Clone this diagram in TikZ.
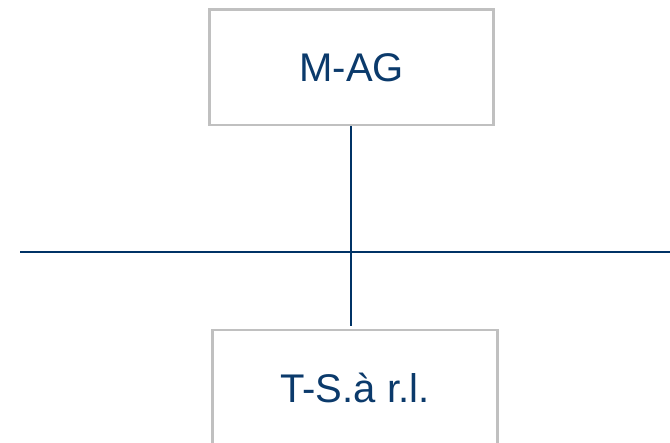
\documentclass[tikz,border=0pt]{standalone}
\usepackage{fontspec}
\setmainfont{Liberation Sans}
\definecolor{boxgrey}{HTML}{C0C0C0}
\definecolor{navy}{HTML}{003366}
\definecolor{textnavy}{HTML}{0B3A6B}
\begin{document}
\begin{tikzpicture}[x=1pt,y=-1pt,
  entity/.style={draw=boxgrey,line width=2.6pt,fill=white,
    minimum width=284pt,minimum height=115.5pt,inner sep=0pt,
    text=textnavy,font=\fontsize{40pt}{48pt}\selectfont},
  link/.style={draw=navy,line width=1.8pt}]
  \clip (0,0) rectangle (670,443);
  \useasboundingbox (0,0) rectangle (670,443);
  % hierarchy line
  \coordinate (hl) at (20,252);
  \coordinate (hr) at (670,252);
  \coordinate (stub) at (351,326);
  \draw[link] (hl) -- (hr);
  % entities
  \node[entity] (parent) at (351.6,67.3) {M-AG};
  \node[entity,minimum width=285pt] (child) at (354.8,387.8) {T-S.à r.l.};
  \draw[link] (parent.south -| stub) -- (stub);
\end{tikzpicture}
\end{document}
